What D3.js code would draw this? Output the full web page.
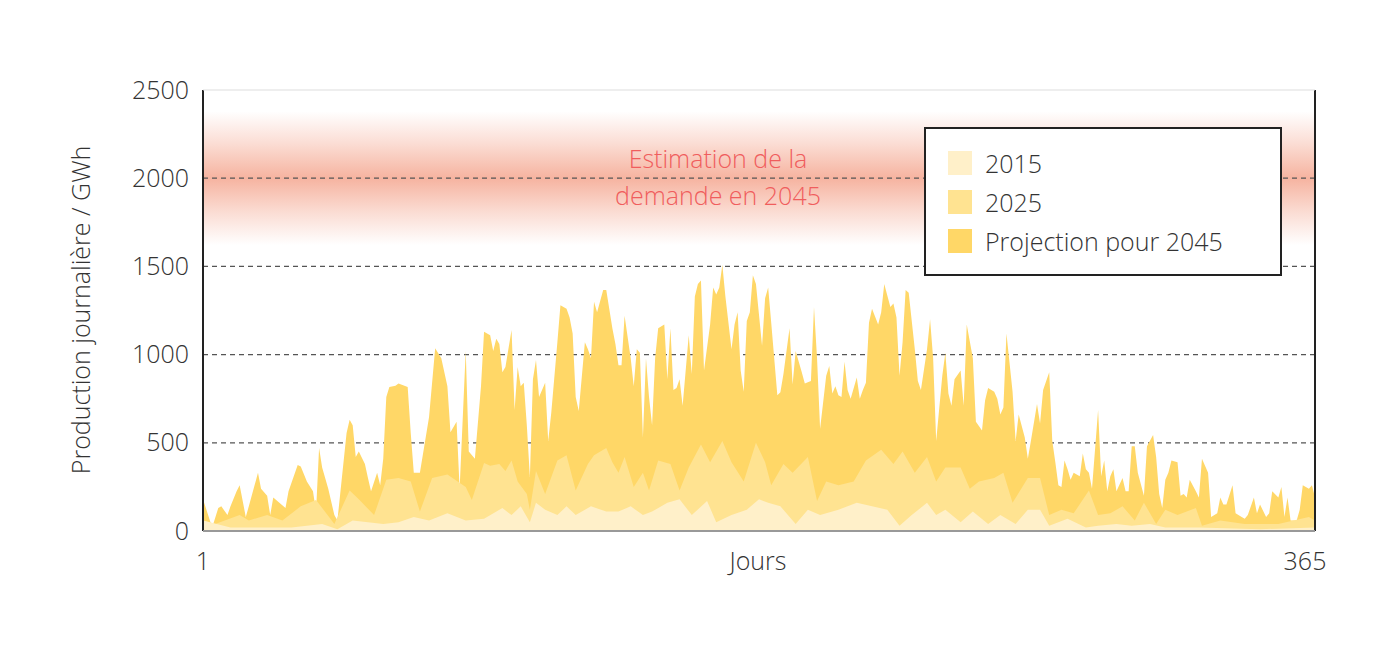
<!DOCTYPE html>
<html><head><meta charset="utf-8">
<script src="https://cdn.jsdelivr.net/npm/d3@7/dist/d3.min.js"></script>
<style>body{margin:0;background:#fff}text{font-family:"Open Sans",sans-serif;font-weight:300}</style>
</head><body><svg id="c" width="1400" height="649"></svg>
<script>
const yTicks=[0,500,1000,1500,2000,2500];
const demand=2000;
const legendLabels=["2015","2025","Projection pour 2045"];
const days2045=[1,4,6,7,9,10,12,13,15,16,19,20,22,23,24,26,28,29,32,33,35,37,38,39,40,42,44,45,46,48,49,50,51,52,54,55,56,58,59,60,61,62,64,65,68,69,70,72,75,77,79,81,82,84,85,87,88,90,92,93,95,96,97,98,99,100,102,103,104,105,106,107,108,109,110,111,113,114,115,117,118,120,121,122,123,124,126,127,128,129,130,132,133,135,136,137,138,139,141,142,143,144,145,146,147,148,149,150,152,153,154,155,156,157,158,160,161,162,163,164,165,167,168,169,170,171,172,174,175,176,177,178,179,180,181,182,184,185,186,187,189,190,191,193,194,195,197,198,200,201,202,203,205,206,207,208,209,210,211,212,213,215,216,217,218,219,220,222,223,224,226,227,228,229,230,231,232,234,235,236,238,239,240,241,243,244,245,246,247,249,250,251,253,254,256,257,258,260,261,262,263,264,266,267,268,270,271,272,274,275,276,278,279,280,281,282,283,284,285,286,288,289,290,291,292,294,295,296,297,298,299,300,302,303,304,305,306,307,309,310,312,313,314,315,316,317,318,320,321,322,323,324,326,327,328,330,331,333,334,335,336,338,339,341,342,343,345,346,347,349,350,351,353,354,355,356,357,359,360,361,363,364,365];
const vals2045=[180,20,130,140,90,140,226,260,80,140,330,240,200,90,190,160,130,226,374,366,280,226,110,470,360,240,90,60,226,556,630,600,420,450,380,300,226,330,260,410,760,816,824,836,816,556,330,330,646,1036,980,820,560,620,240,1020,450,410,820,1130,1110,1020,1090,1060,900,930,1140,686,930,820,840,600,306,860,970,760,840,510,670,1070,1280,1260,1210,1120,760,680,1070,1030,980,1300,1240,1366,1366,1150,1060,940,940,1220,980,820,1030,1010,530,980,760,600,980,1150,1170,860,1150,800,810,860,710,1110,890,1330,1400,1420,910,1170,1380,1340,1380,1510,1330,1030,1170,1240,910,790,1190,1240,1450,1400,1050,1320,1380,1180,770,786,890,1150,830,1020,900,836,850,1270,980,580,880,936,780,820,770,760,960,800,750,870,750,800,840,1180,1260,1170,1240,1400,1270,1290,1210,880,1070,1366,1350,1030,850,800,1030,1200,980,510,880,1010,780,710,860,910,710,1170,980,620,570,740,810,790,750,660,700,1120,790,510,660,530,410,510,720,610,800,900,510,390,260,250,400,350,290,330,310,440,350,330,240,686,310,400,226,310,350,226,300,226,226,480,480,330,200,480,544,420,210,130,290,330,400,390,200,210,190,290,226,190,410,330,80,100,190,150,150,260,100,80,70,90,190,100,150,80,100,226,190,250,80,190,60,60,120,260,240,260,190,240,120];
const days2025=[1,5,13,16,22,27,33,38,44,49,52,57,61,65,69,72,76,81,87,89,93,95,98,100,102,104,107,108,110,113,117,120,123,127,129,133,135,137,139,142,145,147,150,154,157,160,164,167,171,174,178,182,185,187,191,194,199,202,205,209,214,218,223,227,230,234,238,241,244,249,252,255,260,263,266,271,275,278,282,286,291,294,298,302,306,309,313,316,320,326,328,334,342,347,353,358,363,365];
const vals2025=[60,40,90,60,90,60,140,176,40,230,180,90,290,300,280,110,300,320,250,176,386,370,380,340,400,280,210,120,340,210,400,430,230,380,430,470,390,330,420,250,330,230,400,380,230,360,490,390,510,390,280,500,390,260,380,330,420,170,280,260,280,400,460,380,450,330,420,280,360,360,240,280,300,330,160,300,300,90,120,100,230,90,100,140,60,160,40,120,90,130,30,60,40,40,40,60,80,60];
const days2015=[1,10,20,30,40,45,50,60,65,70,75,81,87,93,99,102,105,108,110,113,117,120,123,128,133,137,141,145,148,153,157,161,166,169,174,179,183,186,190,195,199,203,209,215,220,225,229,233,238,241,244,249,253,258,262,267,271,275,278,284,290,294,300,305,311,316,327,347,365];
const vals2015=[60,20,20,20,40,10,60,40,50,80,60,100,60,70,130,90,140,50,160,120,90,140,90,140,110,110,140,90,110,160,180,90,170,50,90,120,180,160,140,40,120,90,120,160,140,120,30,90,160,90,120,50,110,40,90,40,120,120,30,70,20,30,40,30,40,20,20,10,20];
const colors=["#fff0c9","#ffe391","#ffd767"];

const svg=d3.select("#c");
const L=203,R=1315,T=90,B=531;
const x=d3.scaleLinear().domain([1,365]).range([L,R]);
const y=d3.scaleLinear().domain([0,2500]).range([B,T]);

const defs=svg.append("defs");
const g=defs.append("linearGradient").attr("id","band").attr("x1",0).attr("x2",0).attr("y1",0).attr("y2",1);
[[0,0],[0.25,0.35],[0.5,0.75],[0.75,0.35],[1,0]].forEach(s=>g.append("stop").attr("offset",s[0]).attr("stop-color","#f39a80").attr("stop-opacity",s[1]));
svg.append("rect").attr("x",L).attr("width",R-L).attr("y",y(demand+380)).attr("height",y(demand-380)-y(demand+380)).attr("fill","url(#band)");

svg.append("g").selectAll("line").data(yTicks.filter(d=>d>0&&d<2500)).join("line")
 .attr("x1",L).attr("x2",R).attr("y1",d=>y(d)).attr("y2",d=>y(d))
 .attr("stroke","#555").attr("stroke-width",1.2).attr("stroke-dasharray","5,4");

const area=d3.area().x(d=>x(d[0])).y0(y(0)).y1(d=>y(d[1])).curve(d3.curveLinear);
const series=[[days2045,vals2045,colors[2]],[days2025,vals2025,colors[1]],[days2015,vals2015,colors[0]]];
series.forEach(([ds,vs,c])=>svg.append("path").datum(ds.map((d,i)=>[d,vs[i]])).attr("d",area).attr("fill",c));

svg.append("line").attr("x1",L).attr("x2",L).attr("y1",T).attr("y2",B).attr("stroke","#222").attr("stroke-width",2);
svg.append("line").attr("x1",R).attr("x2",R).attr("y1",T).attr("y2",B).attr("stroke","#222").attr("stroke-width",2);
svg.append("line").attr("x1",L).attr("x2",R).attr("y1",B).attr("y2",B).attr("stroke","#999").attr("stroke-width",2);
svg.append("line").attr("x1",L).attr("x2",R).attr("y1",T).attr("y2",T).attr("stroke","#ddd").attr("stroke-width",1);

const yAxis=d3.axisLeft(y).tickValues(yTicks).tickFormat(d3.format("d")).tickSize(0).tickPadding(14);
svg.append("g").attr("transform",`translate(${L},0)`).call(yAxis)
 .call(a=>a.select(".domain").remove())
 .selectAll("text").attr("font-size",25).attr("fill","#333").style("font-family","Open Sans").style("font-weight",300);

const lab=(t,xx,yy)=>svg.append("text").attr("x",xx).attr("y",yy).attr("text-anchor","middle").attr("font-size",25).attr("fill","#333").text(t);
lab("1",x(1),570);lab("365",x(365)-10,570);lab("Jours",758,570);
svg.append("text").attr("transform","translate(90,310) rotate(-90)").attr("text-anchor","middle").attr("font-size",25).attr("fill","#333").text("Production journalière / GWh");

svg.append("text").attr("x",718).attr("y",168).attr("text-anchor","middle").attr("font-size",25).attr("fill","#f05d5d").text("Estimation de la");
svg.append("text").attr("x",718).attr("y",205).attr("text-anchor","middle").attr("font-size",25).attr("fill","#f05d5d").text("demande en 2045");

const lg=svg.append("g").attr("transform","translate(925,128)");
lg.append("rect").attr("width",356).attr("height",147).attr("fill","#fff").attr("stroke","#222").attr("stroke-width",2);
legendLabels.forEach((t,i)=>{
 lg.append("rect").attr("x",23).attr("y",23+i*39).attr("width",24).attr("height",24).attr("fill",colors[i]);
 lg.append("text").attr("x",60).attr("y",45+i*39).attr("font-size",25).attr("fill","#333").text(t);
});
</script></body></html>
